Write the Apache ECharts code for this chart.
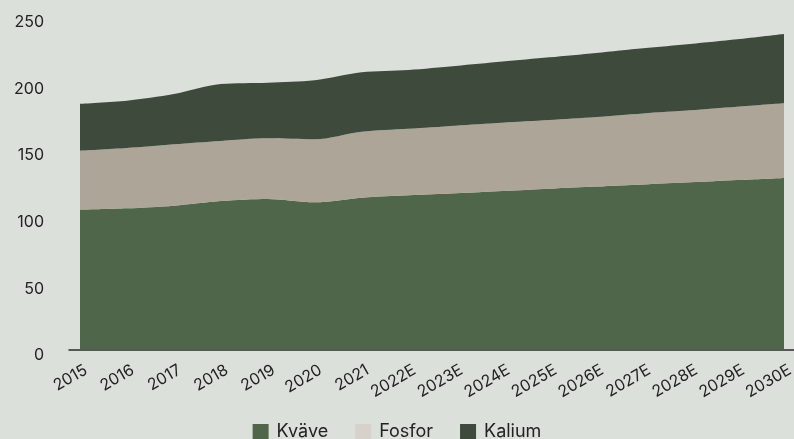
<!DOCTYPE html>
<html>
<head>
<meta charset="utf-8">
<script src="https://cdn.jsdelivr.net/npm/echarts@6/dist/echarts.min.js"></script>
<style>
  html, body { margin: 0; padding: 0; background: #dbe0da; }
  #chart { width: 794px; height: 439px; }
</style>
</head>
<body>
<div id="chart"></div>
<script>
// Years (E = estimate)
const years = ['2015','2016','2017','2018','2019','2020','2021','2022E','2023E','2024E','2025E','2026E','2027E','2028E','2029E','2030E'];

// Nutrient volumes per year, stacked
const kvave  = [104.8, 105.8, 107.8, 111.3, 112.8, 110.3, 113.8, 115.6, 117.1, 118.8, 120.5, 122.1, 123.7, 125.3, 127.0, 128.6];
const fosfor = [44.2, 45.2, 46.0, 45.0, 45.5, 47.3, 49.5, 49.9, 50.7, 51.2, 51.5, 52.2, 53.3, 54.0, 55.0, 56.0];
const kalium = [35.2, 35.5, 37.7, 42.7, 41.7, 44.2, 44.5, 44.0, 44.7, 45.8, 47.0, 48.0, 48.8, 49.7, 50.5, 51.9];

const yTicks = { min: 0, max: 250, step: 50 };

const FONT = 'Inter, "Noto Sans", sans-serif';
const TEXT = '#222';

const chart = echarts.init(document.getElementById('chart'), null, { renderer: 'canvas' });

function areaSeries(name, data, color) {
  return {
    name: name,
    type: 'line',
    stack: 'total',
    data: data,
    smooth: 0.3,
    symbol: 'none',
    lineStyle: { width: 0 },
    areaStyle: { color: color, opacity: 1 },
    itemStyle: { color: color },
    emphasis: { disabled: true }
  };
}

chart.setOption({
  backgroundColor: '#dbe0da',
  animation: false,
  grid: [
    { left: 80, right: 10, top: 16, bottom: 89.5, containLabel: false, outerBoundsMode: 'none' },
    // wider strip carrying the baseline rule
    { left: 69, right: 0, top: 16, bottom: 89.5, containLabel: false, outerBoundsMode: 'none' }
  ],
  legend: {
    bottom: -7,
    left: 'center',
    itemWidth: 16,
    itemHeight: 16,
    itemGap: 27,
    icon: 'rect',
    textStyle: { fontFamily: FONT, fontSize: 18, color: TEXT, padding: [0, 0, 0, 3] },
    data: [
      { name: 'Kväve', itemStyle: { color: '#4f664b' } },
      { name: 'Fosfor', itemStyle: { color: '#d6d2cb' } },
      { name: 'Kalium', itemStyle: { color: '#3e4a3c' } }
    ]
  },
  xAxis: [
    {
      type: 'category',
      gridIndex: 0,
      data: years,
      boundaryGap: false,
      axisLine: { show: false },
      axisTick: { show: false },
      axisLabel: {
        rotate: 30,
        margin: 9,
        interval: 0,
        verticalAlign: 'top',
        lineHeight: 24,
        fontFamily: FONT,
        fontSize: 16,
        color: TEXT
      }
    },
    {
      type: 'value',
      gridIndex: 1,
      min: 0,
      max: 1,
      axisLine: { show: true, lineStyle: { color: '#2b2b2b', width: 1.5 } },
      axisTick: { show: false },
      axisLabel: { show: false },
      splitLine: { show: false }
    }
  ],
  yAxis: [
    {
      type: 'value',
      gridIndex: 0,
      min: yTicks.min,
      max: yTicks.max,
      interval: yTicks.step,
      axisLine: { show: false },
      axisTick: { show: false },
      splitLine: { show: false },
      axisLabel: {
        margin: 36,
        verticalAlign: 'top',
        lineHeight: 12,
        fontFamily: FONT,
        fontSize: 16,
        color: TEXT
      }
    },
    {
      type: 'value',
      gridIndex: 1,
      min: 0,
      max: 1,
      show: false
    }
  ],
  series: [
    areaSeries('Kväve', kvave, '#4f664b'),
    areaSeries('Fosfor', fosfor, '#ada597'),
    areaSeries('Kalium', kalium, '#3e4a3c')
  ]
});
</script>
</body>
</html>
